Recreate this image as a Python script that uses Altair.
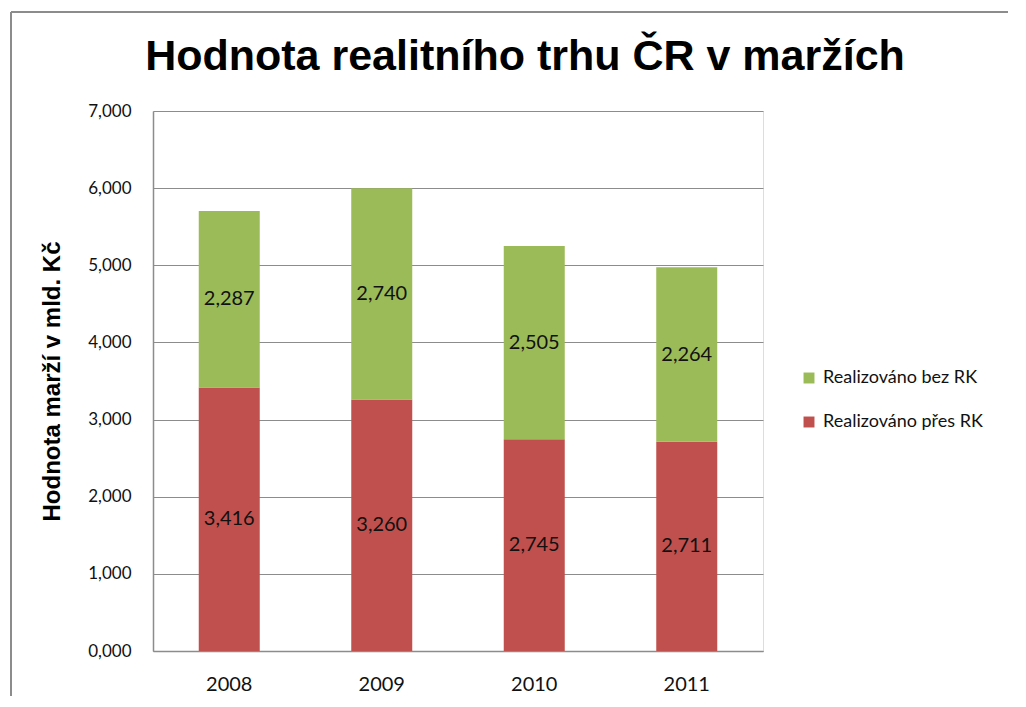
import altair as alt
import pandas as pd

years = ["2008", "2009", "2010", "2011"]
pres_rk = [3416, 3260, 2745, 2711]
bez_rk = [2287, 2740, 2505, 2264]
series_names = ["Realizováno bez RK", "Realizováno přes RK"]
series_colors = ["#9BBB59", "#C0504D"]
y_ticks = [0, 1000, 2000, 3000, 4000, 5000, 6000, 7000]

rows = []
for i, y in enumerate(years):
    rows.append({"rok": y, "serie": series_names[1], "hodnota": pres_rk[i], "poradi": 0})
    rows.append({"rok": y, "serie": series_names[0], "hodnota": bez_rk[i], "poradi": 1})
df = pd.DataFrame(rows)

LBL = "Lato"
HEAD = "Liberation Sans"
TXT = "#111111"

base = alt.Chart(df)

bars = base.mark_bar().encode(
    x=alt.X("rok:N", sort=years,
            scale=alt.Scale(paddingInner=0.6, paddingOuter=0.3),
            axis=alt.Axis(title=None, labelAngle=0, labelFont=LBL, labelFontSize=20,
                          labelColor=TXT, labelPadding=23, ticks=False,
                          domainColor="#8C8C8C", domainWidth=1.5, grid=False)),
    y=alt.Y("hodnota:Q", stack="zero",
            scale=alt.Scale(domain=[0, 7000]),
            axis=alt.Axis(title="Hodnota marží v mld. Kč", titleFont=HEAD, titleFontSize=24,
                          titleFontWeight="bold", titleColor="#000000", titlePadding=23,
                          values=y_ticks, labelFont=LBL, labelFontSize=17, labelColor=TXT,
                          labelPadding=22, ticks=False,
                          labelExpr="replace(format(datum.value / 1000, '.3f'), '.', ',')",
                          domainColor="#8C8C8C", domainWidth=1.5,
                          grid=True, gridColor="#8C8C8C", gridWidth=1)),
    color=alt.Color("serie:N",
                    scale=alt.Scale(domain=series_names, range=series_colors),
                    legend=alt.Legend(title=None, orient="none", legendX=647, legendY=258,
                                      symbolType="square", symbolSize=120, symbolStrokeWidth=0,
                                      labelFont=LBL, labelFontSize=18, labelColor=TXT,
                                      rowPadding=26, labelOffset=5)),
    order=alt.Order("poradi:Q", sort="ascending"),
)

labels = base.mark_text(font=LBL, fontSize=20, color=TXT).encode(
    x=alt.X("rok:N", sort=years),
    y=alt.Y("hodnota:Q", stack="zero", bandPosition=0.5),
    text=alt.Text("hodnota:Q", format=","),
    detail="serie:N",
    order=alt.Order("poradi:Q", sort="ascending"),
)

frame_df = pd.DataFrame({"a": [0]})
frame_left = alt.Chart(frame_df).mark_rule(color="#8C8C8C", strokeWidth=2).encode(
    x=alt.value(-142), y=alt.value(-99), y2=alt.value(700))
frame_top = alt.Chart(frame_df).mark_rule(color="#8C8C8C", strokeWidth=2).encode(
    y=alt.value(-99), x=alt.value(-142), x2=alt.value(1000))

chart = alt.layer(bars, labels, frame_left, frame_top).properties(
    width=610, height=540,
    title=alt.TitleParams("Hodnota realitního trhu ČR v maržích", font=HEAD, fontSize=43,
                          fontWeight="bold", color="#000000", anchor="middle", frame="group",
                          baseline="alphabetic", offset=-102, dx=67),
    autosize=alt.AutoSizeParams(type="none"),
    padding={"left": 145, "top": 103, "right": 245, "bottom": 45},
).configure_view(stroke=None).configure(background="#FFFFFF")

chart.save("out.html", embed_options={"renderer": "svg", "actions": False})
